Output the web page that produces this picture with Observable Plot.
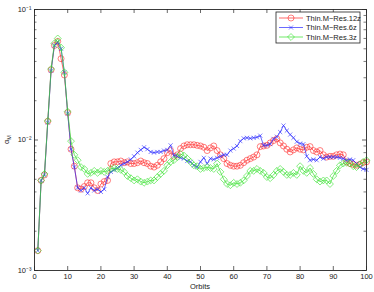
<!DOCTYPE html>
<html>
<head>
<meta charset="utf-8">
<script src="https://cdn.jsdelivr.net/npm/d3@7"></script>
<script src="https://cdn.jsdelivr.net/npm/@observablehq/plot@0.6"></script>
<style>
  html, body { margin: 0; padding: 0; background: #fff; }
  #chart { position: relative; width: 374px; height: 292px; }
</style>
</head>
<body>
<div id="chart"></div>
<script>
const orbits = d3.range(1, 101);

const res12z = [
  0.00142, 0.0049, 0.0054, 0.0139, 0.0345, 0.053, 0.057, 0.042, 0.0315, 0.0162,
  0.0085, 0.0063, 0.0043, 0.0042, 0.0044, 0.0047, 0.0047, 0.0043, 0.0041, 0.0046,
  0.0048, 0.0049, 0.0066, 0.0068, 0.0068, 0.0069, 0.0067, 0.0068, 0.0066, 0.0066,
  0.0067, 0.0069, 0.0067, 0.0066, 0.0063, 0.0062, 0.0064, 0.0068, 0.0072, 0.0080,
  0.0083, 0.0075, 0.0077, 0.0086, 0.0090, 0.0092, 0.0092, 0.0092, 0.0091, 0.0090,
  0.0088, 0.0083, 0.0087, 0.0090, 0.0083, 0.0077, 0.0072, 0.0066, 0.0064, 0.0063,
  0.0063, 0.0064, 0.0067, 0.0070, 0.0072, 0.0074, 0.0077, 0.0089, 0.0090, 0.0091,
  0.0095, 0.0099, 0.0102, 0.0095, 0.0090, 0.0085, 0.0081, 0.0084, 0.0087, 0.0085,
  0.0084, 0.0088, 0.0089, 0.0083, 0.0081, 0.0083, 0.0077, 0.0074, 0.0075, 0.0075,
  0.0077, 0.0078, 0.0077, 0.0068, 0.0066, 0.0065, 0.0064, 0.0065, 0.0067, 0.0068
];

const res6z = [
  0.00142, 0.0049, 0.0054, 0.0136, 0.034, 0.053, 0.056, 0.050, 0.033, 0.016,
  0.0085, 0.0062, 0.0043, 0.0041, 0.0043, 0.0039, 0.0043, 0.0041, 0.0042, 0.0040,
  0.0042, 0.0052, 0.0057, 0.0059, 0.0061, 0.0064, 0.0066, 0.0068, 0.0071, 0.0075,
  0.0080, 0.0084, 0.0088, 0.0085, 0.0081, 0.0080, 0.0081, 0.0081, 0.0083, 0.0084,
  0.0091, 0.0076, 0.0075, 0.0073, 0.0072, 0.0069, 0.0068, 0.0064, 0.0062, 0.0068,
  0.0073, 0.0066, 0.0072, 0.0071, 0.0073, 0.0075, 0.0077, 0.0077, 0.0083, 0.0086,
  0.0090, 0.0098, 0.0103, 0.0104, 0.0103, 0.0104, 0.0105, 0.0108, 0.0091, 0.0091,
  0.0093, 0.0102, 0.0106, 0.0115, 0.0129, 0.0118, 0.0110, 0.0104, 0.0097, 0.0094,
  0.0093, 0.0075, 0.0070, 0.0071, 0.0070, 0.0074, 0.0072, 0.0074, 0.0074, 0.0074,
  0.0074, 0.0073, 0.0072, 0.0070, 0.0071, 0.0070, 0.0066, 0.0062, 0.0060, 0.0059
];

const res3z = [
  0.00142, 0.0049, 0.0055, 0.0140, 0.035, 0.055, 0.060, 0.051, 0.033, 0.0165,
  0.0098, 0.0077, 0.0070, 0.0062, 0.0060, 0.0055, 0.0056, 0.0058, 0.0056, 0.0058,
  0.0057, 0.0058, 0.0060, 0.0061, 0.0060, 0.0059, 0.0057, 0.0053, 0.0051, 0.0049,
  0.0050, 0.0048, 0.0047, 0.0048, 0.0049, 0.0049, 0.0052, 0.0055, 0.0058, 0.0064,
  0.0068, 0.0070, 0.0074, 0.0078, 0.0076, 0.0072, 0.0068, 0.0064, 0.0063, 0.0060,
  0.0061, 0.0062, 0.0061, 0.0060, 0.0066, 0.0057, 0.0050, 0.0046, 0.0045, 0.0047,
  0.0046, 0.0047, 0.0049, 0.0053, 0.0058, 0.0058, 0.0060, 0.0058, 0.0056, 0.0052,
  0.0051, 0.0054, 0.0058, 0.0060, 0.0057, 0.0054, 0.0054, 0.0056, 0.0054, 0.0063,
  0.0058, 0.0056, 0.0061, 0.0055, 0.0050, 0.0048, 0.0049, 0.0049, 0.0046, 0.0053,
  0.0058, 0.0064, 0.0066, 0.0067, 0.0066, 0.0063, 0.0062, 0.0065, 0.0068, 0.0070
];

const seriesNames = ["Thin.M\u2212Res.12z", "Thin.M\u2212Res.6z", "Thin.M\u2212Res.3z"];
const seriesValues = [res12z, res6z, res3z];
const seriesColors = ["#ff2a2a", "#2a2aff", "#33e02a"];
const seriesSymbols = ["circle", "times", "diamond2"];
const seriesR = [3, 2, 3.1];

const xTicks = d3.range(0, 101, 10);
const yMajor = [1e-3, 1e-2, 1e-1];
const yTickLabels = ["10\u207B\u00B3", "10\u207B\u00B2", "10\u207B\u00B9"];
const yMinor = [2,3,4,5,6,7,8,9].flatMap(k => [k * 1e-3, k * 1e-2]);

const W = 374, H = 292;
const mL = 34, mR = 8, mT = 9, mB = 22;
const pw = W - mL - mR, ph = H - mT - mB;

const data = seriesNames.flatMap((name, i) =>
  orbits.map((o, j) => ({series: name, orbit: o, value: seriesValues[i][j], idx: i})));

const marks = [];
const ax = "#262626";
marks.push(Plot.tickX(xTicks, {x: d => d, insetTop: ph - 4, stroke: ax, strokeWidth: 0.7}));
marks.push(Plot.tickX(xTicks, {x: d => d, insetBottom: ph - 4, stroke: ax, strokeWidth: 0.7}));
marks.push(Plot.tickY(yMajor, {y: d => d, insetRight: pw - 4, stroke: ax, strokeWidth: 0.7}));
marks.push(Plot.tickY(yMajor, {y: d => d, insetLeft: pw - 4, stroke: ax, strokeWidth: 0.7}));
marks.push(Plot.tickY(yMinor, {y: d => d, insetRight: pw - 2.5, stroke: ax, strokeWidth: 0.6}));
marks.push(Plot.tickY(yMinor, {y: d => d, insetLeft: pw - 2.5, stroke: ax, strokeWidth: 0.6}));

seriesNames.forEach((name, i) => {
  const d = data.filter(r => r.idx === i);
  marks.push(Plot.line(d, {x: "orbit", y: "value", stroke: seriesColors[i], strokeWidth: 0.7}));
  marks.push(Plot.dot(d, {x: "orbit", y: "value", stroke: seriesColors[i], fill: "none",
    symbol: seriesSymbols[i], r: seriesR[i], strokeWidth: 0.6}));
});

marks.push(Plot.frame({stroke: ax, strokeWidth: 0.9}));
marks.push(Plot.axisX(xTicks, {anchor: "bottom", tickSize: 0, tickPadding: 3, label: null,
  tickFormat: d => String(d), fontSize: 7.5, fill: "#222"}));
marks.push(Plot.axisY(yMajor, {anchor: "left", tickSize: 0, tickPadding: 3, label: null,
  tickFormat: (d, i) => yTickLabels[yMajor.indexOf(d)], fontSize: 7.5, fill: "#222"}));

const chart = Plot.plot({
  width: W, height: H,
  marginLeft: mL, marginRight: mR, marginTop: mT, marginBottom: mB,
  style: {fontFamily: "Liberation Sans, Arial, sans-serif", background: "#fff", overflow: "visible"},
  x: {domain: [0, 100]},
  y: {type: "log", domain: [1e-3, 1e-1]},
  marks
});

document.getElementById("chart").appendChild(chart);

const svg = d3.select(chart);
const xs = chart.scale("x"), ys = chart.scale("y");
svg.append("text")
  .attr("x", xs.apply(50)).attr("y", H - 3)
  .attr("text-anchor", "middle").attr("font-size", 7.5).attr("fill", "#222")
  .attr("font-family", "Liberation Sans, Arial, sans-serif")
  .text("Orbits");
const yl = svg.append("text")
  .attr("transform", `translate(9,${ys.apply(0.01)}) rotate(-90)`)
  .attr("text-anchor", "middle").attr("font-size", 7.5).attr("fill", "#222")
  .attr("font-family", "Liberation Sans, Arial, sans-serif");
yl.append("tspan").text("\u03B1");
yl.append("tspan").attr("font-size", 5.5).attr("dy", 2).text("M");

const lg = svg.append("g").attr("transform", "translate(276,12)")
  .attr("font-family", "Liberation Sans, Arial, sans-serif")
  .attr("text-anchor", "start");
lg.append("rect").attr("width", 84).attr("height", 31).attr("fill", "#fff")
  .attr("stroke", "#222").attr("stroke-width", 0.8);
const symMap = {circle: d3.symbolCircle, times: d3.symbolTimes, diamond2: d3.symbolDiamond2};
seriesNames.forEach((name, i) => {
  const cy = 6 + i * 9.5;
  const row = lg.append("g").attr("transform", `translate(0,${cy})`);
  row.append("line").attr("x1", 3).attr("x2", 27).attr("y1", 0).attr("y2", 0)
    .attr("stroke", seriesColors[i]).attr("stroke-width", 0.7);
  const r = seriesR[i];
  const sym = d3.symbol(symMap[seriesSymbols[i]], Math.PI * r * r);
  row.append("path").attr("d", sym()).attr("transform", "translate(15,0)")
    .attr("fill", "none").attr("stroke", seriesColors[i]).attr("stroke-width", 0.6);
  row.append("text").attr("x", 30).attr("y", 0).attr("dy", "0.35em")
    .attr("text-anchor", "start")
    .attr("font-size", 7.5).attr("fill", "#222").text(name);
});
</script>
</body>
</html>
